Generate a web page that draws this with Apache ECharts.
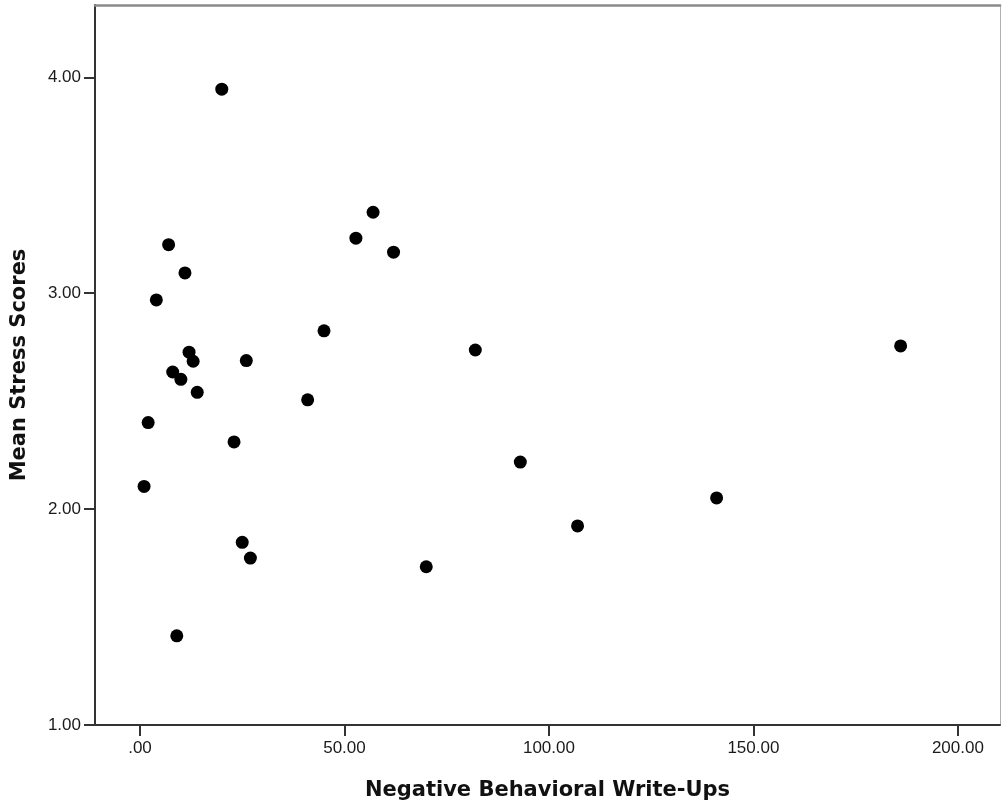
<!DOCTYPE html>
<html>
<head>
<meta charset="utf-8">
<title>Mean Stress Scores vs Negative Behavioral Write-Ups</title>
<script src="https://cdn.jsdelivr.net/npm/echarts@6/dist/echarts.min.js"></script>
<style>
  html, body { margin: 0; padding: 0; background: #fff; }
  #main { width: 1002px; height: 809px; }
</style>
</head>
<body>
<div id="main"></div>
<script>
// write-ups per student (x) and mean stress score (y)
var writeUps = [20, 57, 52.8, 62, 7, 11, 4, 45, 12, 13, 26, 8, 10, 14, 2, 41, 82, 186, 23, 1, 93, 141, 107, 25, 27, 70, 9];
var stress   = [3.945, 3.375, 3.255, 3.19, 3.225, 3.094, 2.969, 2.826, 2.727, 2.685, 2.688, 2.635, 2.601, 2.541, 2.401, 2.506, 2.737, 2.756, 2.311, 2.105, 2.218, 2.052, 1.922, 1.846, 1.773, 1.733, 1.413];

var xTicks = [0, 50, 100, 150, 200];
var yTicks = [1, 2, 3, 4];

var points = [];
for (var i = 0; i < writeUps.length; i++) {
  points.push([writeUps[i], stress[i]]);
}

var labelFont = { color: '#1a1a1a', fontFamily: 'Liberation Sans, Arial, sans-serif', fontSize: 17 };
var titleFont = { color: '#111', fontFamily: 'DejaVu Sans, sans-serif', fontSize: 21, fontWeight: 'bold' };

var myChart = echarts.init(document.getElementById('main'));
var option = {
  animation: false,
  backgroundColor: '#fff',
  grid: { left: 95, right: 2, top: 5, bottom: 84, outerBoundsMode: 'none', containLabel: false },
  xAxis: [{
    type: 'value',
    min: -11,
    max: 210.3,
    name: 'Negative Behavioral Write-Ups',
    nameLocation: 'middle',
    nameGap: 55,
    nameTextStyle: titleFont,
    splitLine: { show: false },
    axisLine: { onZero: false, lineStyle: { color: '#333', width: 2 } },
    axisTick: { customValues: xTicks, length: 11, lineStyle: { color: '#333', width: 2 } },
    axisLabel: Object.assign({
      customValues: xTicks,
      margin: 15,
      formatter: function (v) { return v === 0 ? '.00' : v.toFixed(2); }
    }, labelFont)
  }, {
    type: 'value',
    position: 'top',
    min: -11,
    max: 210.3,
    splitLine: { show: false },
    axisLine: { show: true, onZero: false, lineStyle: { color: '#8a8a8a', width: 2.5 } },
    axisTick: { show: false },
    axisLabel: { show: false }
  }],
  yAxis: [{
    type: 'value',
    min: 1,
    max: 4.335,
    name: 'Mean Stress Scores',
    nameLocation: 'middle',
    nameGap: 65,
    nameTextStyle: titleFont,
    splitLine: { show: false },
    axisLine: { show: true, onZero: false, lineStyle: { color: '#333', width: 2 } },
    axisTick: { show: true, customValues: yTicks, length: 11, lineStyle: { color: '#333', width: 2 } },
    axisLabel: Object.assign({
      customValues: yTicks,
      margin: 14,
      formatter: function (v) { return v.toFixed(2); }
    }, labelFont)
  }, {
    type: 'value',
    position: 'right',
    min: 1,
    max: 4.335,
    splitLine: { show: false },
    axisLine: { show: true, onZero: false, lineStyle: { color: '#b0b0b0', width: 1 } },
    axisTick: { show: false },
    axisLabel: { show: false }
  }],
  series: [{
    type: 'scatter',
    data: points,
    symbol: 'circle',
    symbolSize: 13,
    itemStyle: { color: '#000', opacity: 1 }
  }]
};
myChart.setOption(option);
</script>
</body>
</html>
